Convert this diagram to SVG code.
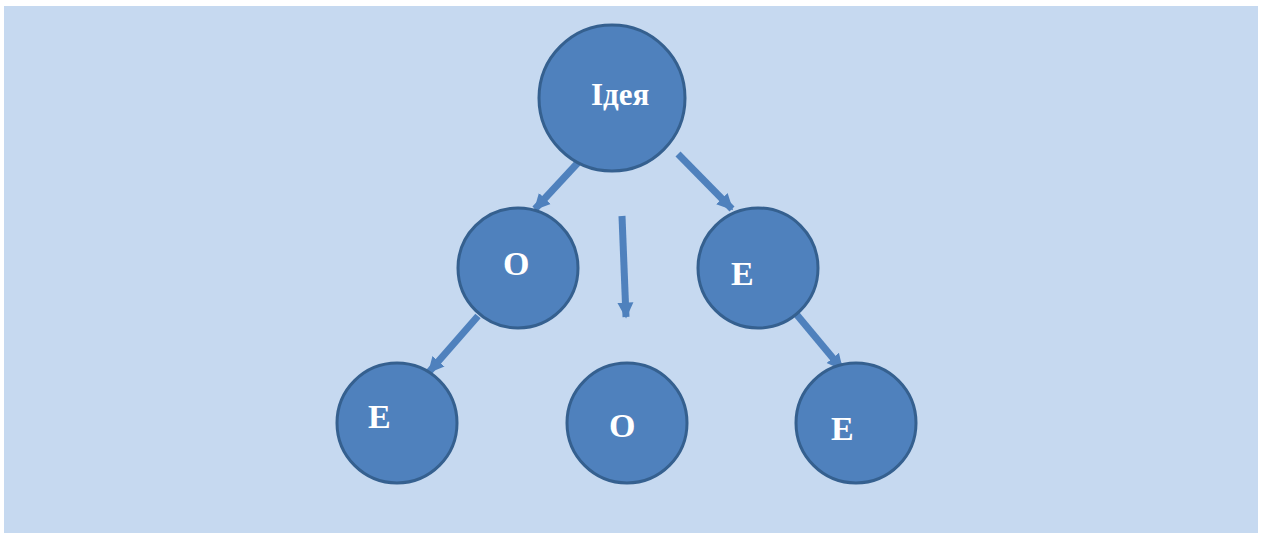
<svg xmlns="http://www.w3.org/2000/svg" width="1265" height="533" viewBox="0 0 1265 533">
  <style>
    .node { fill: #4F81BD; stroke: #35608F; stroke-width: 3; }
    .label { fill: #FFFFFF; font-family: "Liberation Serif", "Times New Roman", serif; font-weight: bold; font-size: 34px; }
    .conn { stroke: #4F81BD; stroke-width: 7; fill: none; marker-end: url(#head); }
  </style>
  <defs>
    <marker id="head" viewBox="0 0 10 10" refX="9" refY="5" markerUnits="userSpaceOnUse" markerWidth="16" markerHeight="20" orient="auto">
      <path d="M0,0 L10,5 L0,10 z" fill="#4F81BD"/>
    </marker>
  </defs>

  <!-- background panel -->
  <rect x="4" y="6" width="1254" height="527" fill="#C6D9F0"/>

  <!-- connectors -->
  <g id="connectors">
    <line class="conn" x1="586" y1="154" x2="535" y2="209"/>
    <line class="conn" x1="678" y1="154" x2="732" y2="209"/>
    <line class="conn" x1="622" y1="216" x2="626" y2="317"/>
    <line class="conn" x1="478" y1="316" x2="429" y2="372"/>
    <line class="conn" x1="787" y1="303" x2="842" y2="369"/>
  </g>

  <!-- nodes -->
  <g id="node-idea">
    <circle class="node" cx="612" cy="98" r="73"/>
    <text class="label" x="591" y="105" style="font-size:31px">Ідея</text>
  </g>
  <g id="node-o1">
    <circle class="node" cx="518" cy="268" r="60"/>
    <text class="label" x="503" y="275">O</text>
  </g>
  <g id="node-e1">
    <circle class="node" cx="758" cy="268" r="60"/>
    <text class="label" x="731" y="285">E</text>
  </g>
  <g id="node-e2">
    <circle class="node" cx="397" cy="423" r="60"/>
    <text class="label" x="368" y="428">E</text>
  </g>
  <g id="node-o2">
    <circle class="node" cx="627" cy="423" r="60"/>
    <text class="label" x="609" y="437">O</text>
  </g>
  <g id="node-e3">
    <circle class="node" cx="856" cy="423" r="60"/>
    <text class="label" x="831" y="440">E</text>
  </g>
</svg>
